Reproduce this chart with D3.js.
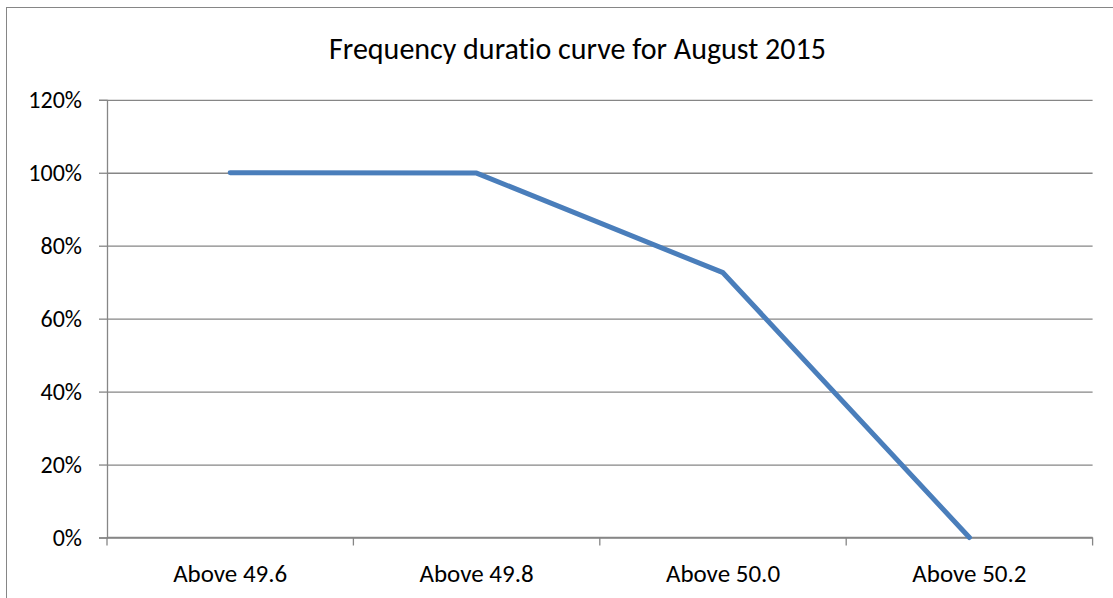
<!DOCTYPE html>
<html>
<head>
<meta charset="utf-8">
<script src="https://cdn.jsdelivr.net/npm/d3@7"></script>
<style>
  html, body { margin: 0; padding: 0; background: #fff; }
  svg { display: block; }
  text { font-family: Calibri, Carlito, Lato, "Open Sans", sans-serif; fill: #000; font-variant-ligatures: none; }
</style>
</head>
<body>
<div id="chart"></div>
<script>
// Frequency duration curve — single line over four frequency bands
const categories = ["Above 49.6", "Above 49.8", "Above 50.0", "Above 50.2"];
const values = [1.0, 0.999, 0.726, 0.0];
const yTicks = [0, 0.2, 0.4, 0.6, 0.8, 1.0, 1.2];
const title = "Frequency duratio curve for August 2015";

(function () {
  const W = 1113, H = 598;
  const plot = { left: 107, right: 1092.6, top: 99.8, bottom: 537.5 };
  const grid = "#868686";

  const svg = d3.select("#chart").append("svg")
    .attr("width", W).attr("height", H);

  // outer chart border (clipped on the right and bottom like the source)
  svg.append("rect")
    .attr("x", 6.5).attr("y", 7.5)
    .attr("width", W + 20).attr("height", H + 20)
    .attr("fill", "none").attr("stroke", grid).attr("stroke-width", 1);

  svg.append("text")
    .attr("x", 577.5).attr("y", 58.5)
    .attr("text-anchor", "middle").attr("font-size", "30px")
    .text(title);

  const x = d3.scaleBand().domain(categories).range([plot.left, plot.right]);
  const y = d3.scaleLinear().domain([0, 1.2]).range([plot.bottom, plot.top]);

  // horizontal gridlines + y labels
  const yAxis = d3.axisLeft(y).tickValues(yTicks)
    .tickFormat(d3.format(".0%")).tickSize(8).tickPadding(17);
  const gy = svg.append("g").attr("transform", `translate(${plot.left},0)`).call(yAxis);
  gy.attr("font-family", null).attr("font-size", null);
  gy.select(".domain").attr("stroke", grid).attr("stroke-width", 1.3);
  gy.selectAll(".tick line").attr("stroke", grid).attr("stroke-width", 1.3);
  gy.selectAll(".tick text").attr("font-size", "24px").attr("fill", "#000");
  gy.selectAll(".tick").append("line")
    .attr("x1", 0).attr("x2", plot.right - plot.left)
    .attr("stroke", grid).attr("stroke-width", 1.3);

  // category axis with boundary ticks
  const bounds = categories.map(c => x(c)).concat([plot.right]);
  const gx = svg.append("g");
  gx.append("line")
    .attr("x1", plot.left).attr("x2", plot.right)
    .attr("y1", plot.bottom).attr("y2", plot.bottom)
    .attr("stroke", grid).attr("stroke-width", 1.3);
  gx.selectAll("line.tk").data(bounds).join("line").attr("class", "tk")
    .attr("x1", d => d).attr("x2", d => d)
    .attr("y1", plot.bottom).attr("y2", plot.bottom + 8)
    .attr("stroke", grid).attr("stroke-width", 1.3);
  gx.selectAll("text").data(categories).join("text")
    .attr("x", d => x(d) + x.bandwidth() / 2).attr("y", 581.5)
    .attr("text-anchor", "middle").attr("font-size", "25px")
    .text(d => d);

  // the curve
  const line = d3.line()
    .x((d, i) => x(categories[i]) + x.bandwidth() / 2)
    .y(d => y(d));
  svg.append("path").datum(values)
    .attr("d", line)
    .attr("fill", "none").attr("stroke", "#4A7EBB")
    .attr("stroke-width", 5).attr("stroke-linecap", "round")
    .attr("stroke-linejoin", "round");
})();
</script>
</body>
</html>
